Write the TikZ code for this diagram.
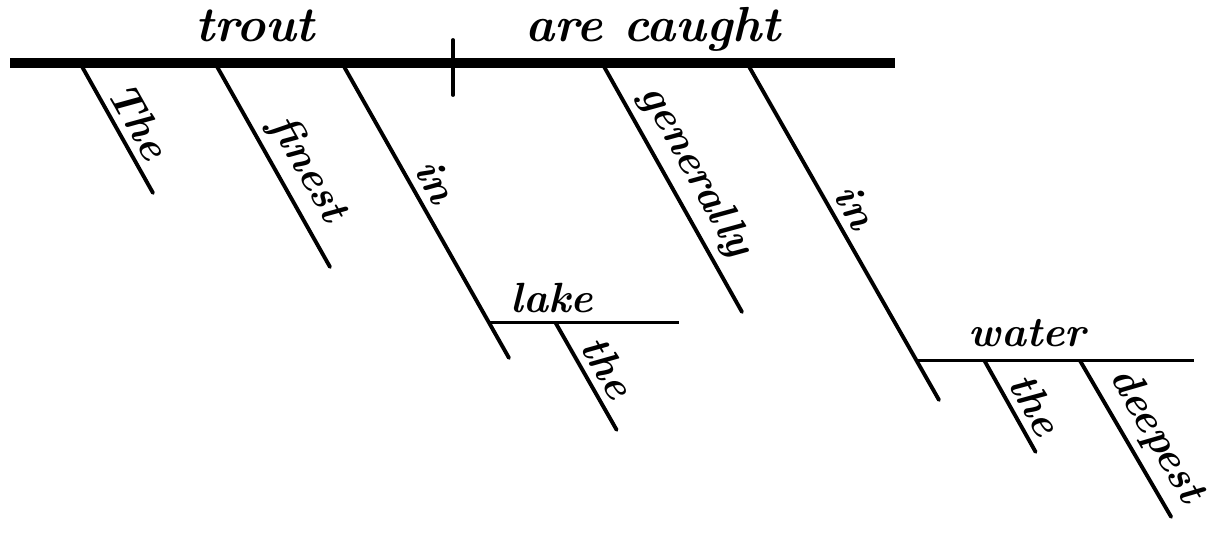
\documentclass[tikz,border=0pt]{standalone}
\usepackage{tikz}
\usetikzlibrary{calc}

\begin{document}
\begin{tikzpicture}[
    x=0.01cm, y=-0.01cm,
    baseline/.style={line width=2.8pt},
    rule/.style={line width=1.1pt, line cap=round},
    sub/.style={line width=0.9pt},
    word/.style={font=\fontsize{14}{16}\selectfont\bfseries\itshape, anchor=base, inner sep=0pt},
    mod/.style={font=\fontsize{12}{14}\selectfont\bfseries\itshape, sloped, above, inner sep=2pt}
  ]
  \useasboundingbox (0,0) rectangle (1211,534);

  % subject | predicate
  \coordinate (bl) at (10,63);
  \coordinate (br) at (895,63);
  \draw[baseline] (bl) -- (br);
  \coordinate (s1) at (453,40);
  \coordinate (s2) at (453,95);
  \draw[rule] (s1) -- (s2);
  \node[word] (subj) at (255,42) {trout};
  \node[word] (verb) at (653,42) {are caught};

  % modifiers on the base line
  \coordinate (a1) at (80,63);  \coordinate (a2) at (153,193);
  \coordinate (b1) at (215,63); \coordinate (b2) at (330,267);
  \coordinate (c1) at (342,63); \coordinate (c2) at (509,358);
  \coordinate (d1) at (602,63); \coordinate (d2) at (742,312);
  \coordinate (e1) at (747,63); \coordinate (e2) at (939,400);

  \draw[rule] (a1) -- node[mod, pos=0.53] (the1) {The} (a2);
  \draw[rule] (b1) -- node[mod, pos=0.59] (fin) {finest} (b2);
  \draw[rule] (c1) -- node[mod, pos=0.44] (in1) {in} (c2);
  \draw[rule] (d1) -- node[mod, pos=0.49] (gen) {generally} (d2);
  \draw[rule] (e1) -- node[mod, pos=0.46] (in2) {in} (e2);

  % in the lake
  \path (c1) -- (c2) coordinate[pos=0.881] (l1);
  \draw[sub] (l1) -- ++(190,0) coordinate (l2);
  \node[word, font=\fontsize{12}{14}\selectfont\bfseries\itshape] (lake) at ($(l1)!0.33!(l2) + (0,-10)$) {lake};
  \coordinate (f1) at ($(l1)!0.35!(l2)$);
  \draw[rule] (f1) -- node[mod, pos=0.52] (the2) {the} ++(61,107) coordinate (f2);

  % in the deepest water
  \path (e1) -- (e2) coordinate[pos=0.884] (w1);
  \draw[sub] (w1) -- ++(277,0) coordinate (w2);
  \node[word, font=\fontsize{12}{14}\selectfont\bfseries\itshape] (water) at ($(w1)!0.40!(w2) + (0,-14)$) {water};
  \coordinate (g1) at ($(w1)!0.245!(w2)$);
  \coordinate (h1) at ($(w1)!0.59!(w2)$);
  \draw[rule] (g1) -- node[mod, pos=0.6] (the3) {the} ++(51,91) coordinate (g2);
  \draw[rule] (h1) -- node[mod, pos=0.57] (deep) {deepest} ++(91,156) coordinate (h2);
\end{tikzpicture}
\end{document}
